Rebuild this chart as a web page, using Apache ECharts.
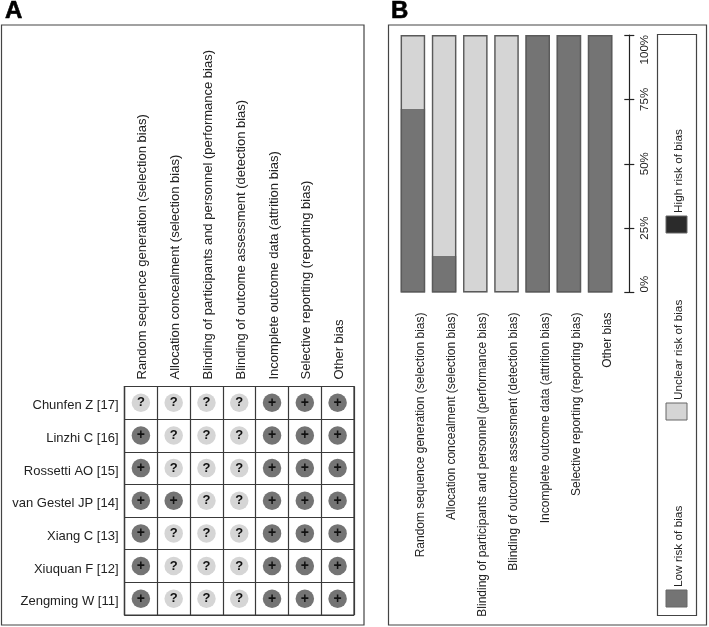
<!DOCTYPE html>
<html>
<head>
<meta charset="utf-8">
<style>
  html, body { margin: 0; padding: 0; background: #fff; }
  #chart { width: 709px; height: 627px; }
</style>
<script src="https://cdn.jsdelivr.net/npm/echarts@6/dist/echarts.min.js"></script>
</head>
<body>
<div id="chart"></div>
<script>
const domains = [
  'Random sequence generation (selection bias)',
  'Allocation concealment (selection bias)',
  'Blinding of participants and personnel (performance bias)',
  'Blinding of outcome assessment (detection bias)',
  'Incomplete outcome data (attrition bias)',
  'Selective reporting (reporting bias)',
  'Other bias'
]
const studies = [
  'Chunfen Z [17]',
  'Linzhi C [16]',
  'Rossetti AO [15]',
  'van Gestel JP [14]',
  'Xiang C [13]',
  'Xiuquan F [12]',
  'Zengming W [11]'
]
const judgements = [
  ['?', '?', '?', '?', '+', '+', '+'],
  ['+', '?', '?', '?', '+', '+', '+'],
  ['+', '?', '?', '?', '+', '+', '+'],
  ['+', '+', '?', '?', '+', '+', '+'],
  ['+', '?', '?', '?', '+', '+', '+'],
  ['+', '?', '?', '?', '+', '+', '+'],
  ['+', '?', '?', '?', '+', '+', '+']
]
const lowRisk = [71.4, 14.3, 0, 0, 100, 100, 100]
const unclearRisk = [28.6, 85.7, 100, 100, 0, 0, 0]
const highRisk = [0, 0, 0, 0, 0, 0, 0]
const barTotals = [100, 100, 100, 100, 100, 100, 100]
const legendNames = ['Low risk of bias', 'Unclear risk of bias', 'High risk of bias']

const LOW = '#747474'
const UNCLEAR = '#d5d5d5'
const HIGH = '#2b2b2b'
const LINE = '#3a3a3a'
const TEXT = '#222'
const FONT = '"Liberation Sans", Arial, sans-serif'

function cellsFor(mark) {
  let cells = []
  judgements.forEach((row, r) => {
    row.forEach((v, c) => {
      if (v === mark) cells.push([c, r])
    })
  })
  return cells
}

function cellSeries(mark, color, fontSize) {
  return {
    type: 'scatter',
    xAxisIndex: 0,
    yAxisIndex: 0,
    symbol: 'circle',
    symbolSize: 18.5,
    itemStyle: { color: color, opacity: 1 },
    label: {
      show: true,
      position: 'inside',
      formatter: mark,
      color: '#111',
      fontFamily: FONT,
      fontWeight: 'bold',
      fontSize: fontSize
    },
    data: cellsFor(mark)
  }
}

function legendItem(name, swatchTop, color) {
  return [
    {
      type: 'rect',
      shape: { x: 666, y: swatchTop, width: 21, height: 17 },
      style: { fill: color, stroke: '#666', lineWidth: 1 }
    },
    {
      type: 'text',
      x: 679,
      y: swatchTop - 3,
      rotation: Math.PI / 2,
      style: {
        text: name,
        fill: TEXT,
        font: '11.8px ' + FONT,
        textAlign: 'left',
        textVerticalAlign: 'middle'
      }
    }
  ]
}

const chart = echarts.init(document.getElementById('chart'))

chart.setOption({
  animation: false,
  backgroundColor: '#fff',
  graphic: [
    { type: 'rect', shape: { x: 1.5, y: 25, width: 362.5, height: 600 }, style: { fill: 'none', stroke: '#444', lineWidth: 1.2 } },
    { type: 'rect', shape: { x: 388.5, y: 25, width: 318, height: 600 }, style: { fill: 'none', stroke: '#444', lineWidth: 1.2 } },
    { type: 'rect', shape: { x: 657.5, y: 34.5, width: 39, height: 581 }, style: { fill: 'none', stroke: '#444', lineWidth: 1.2 } },
    { type: 'text', x: 5, y: -1, style: { text: 'A', fill: '#000', stroke: '#000', lineWidth: 0.6, font: 'bold 24px ' + FONT } },
    { type: 'text', x: 391, y: -1, style: { text: 'B', fill: '#000', stroke: '#000', lineWidth: 0.6, font: 'bold 24px ' + FONT } },
    ...legendItem(legendNames[0], 590, LOW),
    ...legendItem(legendNames[1], 403, UNCLEAR),
    ...legendItem(legendNames[2], 216, HIGH)
  ],
  grid: [
    { left: 124.5, top: 386.5, width: 229.5, height: 228.5, show: true, backgroundColor: 'transparent', borderColor: LINE, borderWidth: 1.2 },
    { left: 397.3, top: 35, width: 218.4, height: 257.5 }
  ],
  xAxis: [
    {
      gridIndex: 0,
      type: 'category',
      position: 'top',
      data: domains,
      axisLine: { lineStyle: { color: LINE, width: 1.2 } },
      axisTick: { show: false },
      splitLine: { show: true, interval: 0, lineStyle: { color: LINE, width: 1.2 } },
      axisLabel: { interval: 0, rotate: -90, margin: 7, verticalAlign: 'top', lineHeight: 4, color: TEXT, fontFamily: FONT, fontSize: 13 }
    },
    {
      gridIndex: 1,
      type: 'category',
      data: domains,
      axisLine: { show: false },
      axisTick: { show: false },
      axisLabel: { interval: 0, rotate: 90, margin: 20, verticalAlign: 'top', lineHeight: 15, color: TEXT, fontFamily: FONT, fontSize: 12 }
    }
  ],
  yAxis: [
    {
      gridIndex: 0,
      type: 'category',
      inverse: true,
      data: studies,
      axisLine: { lineStyle: { color: LINE, width: 1.2 } },
      axisTick: { show: false },
      splitLine: { show: true, interval: 0, lineStyle: { color: LINE, width: 1.2 } },
      axisLabel: { interval: 0, margin: 6, verticalAlign: 'top', lineHeight: 6, color: TEXT, fontFamily: FONT, fontSize: 13 }
    },
    {
      gridIndex: 1,
      type: 'value',
      position: 'right',
      offset: 13.6,
      min: 0,
      max: 100,
      interval: 25,
      splitLine: { show: false },
      axisLine: { show: true, lineStyle: { color: '#222', width: 1.2 } },
      axisTick: { show: true, length: 5, lineStyle: { color: '#222', width: 1.2 } },
      axisLabel: {
        rotate: 90,
        margin: 10,
        align: 'center',
        alignMinLabel: 'left',
        alignMaxLabel: 'right',
        color: TEXT,
        fontFamily: FONT,
        fontSize: 11.5,
        formatter: '{value}%'
      }
    },
    {
      // second half of the ticks, they cross the axis line in the reference
      gridIndex: 1,
      type: 'value',
      position: 'right',
      offset: 13.6,
      min: 0,
      max: 100,
      interval: 25,
      splitLine: { show: false },
      axisLine: { show: false },
      axisTick: { show: true, inside: true, length: 5, lineStyle: { color: '#222', width: 1.2 } },
      axisLabel: { show: false }
    }
  ],
  series: [
    cellSeries('+', LOW, 14),
    cellSeries('?', UNCLEAR, 13),
    {
      name: legendNames[0], type: 'bar', xAxisIndex: 1, yAxisIndex: 1, stack: 'risk',
      barWidth: 24.5, itemStyle: { color: LOW }, data: lowRisk
    },
    {
      name: legendNames[1], type: 'bar', xAxisIndex: 1, yAxisIndex: 1, stack: 'risk',
      barWidth: 24.5, itemStyle: { color: UNCLEAR }, data: unclearRisk
    },
    {
      name: legendNames[2], type: 'bar', xAxisIndex: 1, yAxisIndex: 1, stack: 'risk',
      barWidth: 24.5, itemStyle: { color: HIGH }, data: highRisk
    },
    {
      // outline round the whole bar, no line between the stacked parts
      type: 'bar', xAxisIndex: 1, yAxisIndex: 1, stack: 'outline',
      barWidth: 24.5, barGap: '-100%', z: 5,
      itemStyle: { color: 'transparent', borderColor: '#5a5a5a', borderWidth: 1.4 },
      data: barTotals
    }
  ]
})
</script>
</body>
</html>
